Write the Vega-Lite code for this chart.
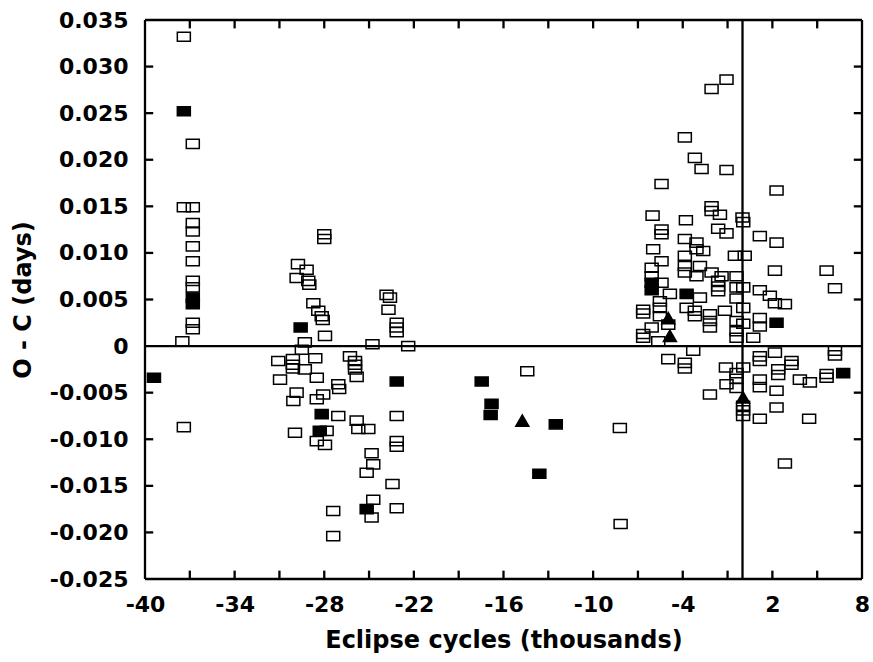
{
  "$schema": "https://vega.github.io/schema/vega-lite/v6.json",
  "width": 717,
  "height": 559,
  "padding": {"left": 11, "top": 9, "right": 8, "bottom": 4},
  "background": "white",
  "view": {"stroke": null},
  "config": {
    "axis": {
      "labelFont": "DejaVu Sans",
      "labelFontWeight": "bold",
      "labelFontSize": 22,
      "labelColor": "black",
      "labelFlush": false,
      "labelOverlap": false,
      "titleFont": "DejaVu Sans",
      "titleFontWeight": "bold",
      "titleFontSize": 24,
      "titleColor": "black"
    }
  },
  "datasets": {
    "segments": [
      {"c": -40, "c2": -40, "oc": -0.025, "oc2": 0.035},
      {"c": 8, "c2": 8, "oc": -0.025, "oc2": 0.035},
      {"c": -40, "c2": 8, "oc": -0.025, "oc2": -0.025},
      {"c": -40, "c2": 8, "oc": 0.035, "oc2": 0.035},
      {"c": 0, "c2": 0, "oc": -0.025, "oc2": 0.035},
      {"c": -40, "c2": 8, "oc": 0, "oc2": 0},
      {"c": -37, "c2": -37, "oc": -0.025, "oc2": -0.0241}, {"c": -37, "c2": -37, "oc": 0.035, "oc2": 0.0341},
      {"c": -34, "c2": -34, "oc": -0.025, "oc2": -0.0241}, {"c": -34, "c2": -34, "oc": 0.035, "oc2": 0.0341},
      {"c": -31, "c2": -31, "oc": -0.025, "oc2": -0.0241}, {"c": -31, "c2": -31, "oc": 0.035, "oc2": 0.0341},
      {"c": -28, "c2": -28, "oc": -0.025, "oc2": -0.0241}, {"c": -28, "c2": -28, "oc": 0.035, "oc2": 0.0341},
      {"c": -25, "c2": -25, "oc": -0.025, "oc2": -0.0241}, {"c": -25, "c2": -25, "oc": 0.035, "oc2": 0.0341},
      {"c": -22, "c2": -22, "oc": -0.025, "oc2": -0.0241}, {"c": -22, "c2": -22, "oc": 0.035, "oc2": 0.0341},
      {"c": -19, "c2": -19, "oc": -0.025, "oc2": -0.0241}, {"c": -19, "c2": -19, "oc": 0.035, "oc2": 0.0341},
      {"c": -16, "c2": -16, "oc": -0.025, "oc2": -0.0241}, {"c": -16, "c2": -16, "oc": 0.035, "oc2": 0.0341},
      {"c": -13, "c2": -13, "oc": -0.025, "oc2": -0.0241}, {"c": -13, "c2": -13, "oc": 0.035, "oc2": 0.0341},
      {"c": -10, "c2": -10, "oc": -0.025, "oc2": -0.0241}, {"c": -10, "c2": -10, "oc": 0.035, "oc2": 0.0341},
      {"c": -7, "c2": -7, "oc": -0.025, "oc2": -0.0241}, {"c": -7, "c2": -7, "oc": 0.035, "oc2": 0.0341},
      {"c": -4, "c2": -4, "oc": -0.025, "oc2": -0.0241}, {"c": -4, "c2": -4, "oc": 0.035, "oc2": 0.0341},
      {"c": -1, "c2": -1, "oc": -0.025, "oc2": -0.0241}, {"c": -1, "c2": -1, "oc": 0.035, "oc2": 0.0341},
      {"c": 2, "c2": 2, "oc": -0.025, "oc2": -0.0241}, {"c": 2, "c2": 2, "oc": 0.035, "oc2": 0.0341},
      {"c": 5, "c2": 5, "oc": -0.025, "oc2": -0.0241}, {"c": 5, "c2": 5, "oc": 0.035, "oc2": 0.0341},
      {"c": -40, "c2": -39.45, "oc": -0.02, "oc2": -0.02}, {"c": 8, "c2": 7.45, "oc": -0.02, "oc2": -0.02},
      {"c": -40, "c2": -39.45, "oc": -0.015, "oc2": -0.015}, {"c": 8, "c2": 7.45, "oc": -0.015, "oc2": -0.015},
      {"c": -40, "c2": -39.45, "oc": -0.01, "oc2": -0.01}, {"c": 8, "c2": 7.45, "oc": -0.01, "oc2": -0.01},
      {"c": -40, "c2": -39.45, "oc": -0.005, "oc2": -0.005}, {"c": 8, "c2": 7.45, "oc": -0.005, "oc2": -0.005},
      {"c": -40, "c2": -39.45, "oc": 0.005, "oc2": 0.005}, {"c": 8, "c2": 7.45, "oc": 0.005, "oc2": 0.005},
      {"c": -40, "c2": -39.45, "oc": 0.01, "oc2": 0.01}, {"c": 8, "c2": 7.45, "oc": 0.01, "oc2": 0.01},
      {"c": -40, "c2": -39.45, "oc": 0.015, "oc2": 0.015}, {"c": 8, "c2": 7.45, "oc": 0.015, "oc2": 0.015},
      {"c": -40, "c2": -39.45, "oc": 0.02, "oc2": 0.02}, {"c": 8, "c2": 7.45, "oc": 0.02, "oc2": 0.02},
      {"c": -40, "c2": -39.45, "oc": 0.025, "oc2": 0.025}, {"c": 8, "c2": 7.45, "oc": 0.025, "oc2": 0.025},
      {"c": -40, "c2": -39.45, "oc": 0.03, "oc2": 0.03}, {"c": 8, "c2": 7.45, "oc": 0.03, "oc2": 0.03}
    ],
    "obs": [
      {"c": -37.4, "oc": 0.0332, "t": "open"},
      {"c": -37.4, "oc": 0.0252, "t": "filled"},
      {"c": -36.8, "oc": 0.0217, "t": "open"},
      {"c": -37.4, "oc": 0.0149, "t": "open"},
      {"c": -36.8, "oc": 0.0149, "t": "open"},
      {"c": -36.8, "oc": 0.0132, "t": "open"},
      {"c": -36.8, "oc": 0.0123, "t": "open"},
      {"c": -36.8, "oc": 0.0107, "t": "open"},
      {"c": -36.8, "oc": 0.0091, "t": "open"},
      {"c": -36.8, "oc": 0.0070, "t": "open"},
      {"c": -36.8, "oc": 0.0063, "t": "open"},
      {"c": -36.8, "oc": 0.0052, "t": "filled"},
      {"c": -36.8, "oc": 0.0045, "t": "filled"},
      {"c": -36.8, "oc": 0.0025, "t": "open"},
      {"c": -36.8, "oc": 0.0018, "t": "open"},
      {"c": -37.5, "oc": 0.0005, "t": "open"},
      {"c": -37.4, "oc": -0.0087, "t": "open"},
      {"c": -39.4, "oc": -0.0034, "t": "filled"},
      {"c": -28.0, "oc": 0.0120, "t": "open"},
      {"c": -28.0, "oc": 0.0115, "t": "open"},
      {"c": -29.76, "oc": 0.0088, "t": "open"},
      {"c": -29.18, "oc": 0.0082, "t": "open"},
      {"c": -29.85, "oc": 0.0073, "t": "open"},
      {"c": -29.07, "oc": 0.0070, "t": "open"},
      {"c": -29.0, "oc": 0.0066, "t": "open"},
      {"c": -28.73, "oc": 0.0046, "t": "open"},
      {"c": -28.4, "oc": 0.0038, "t": "open"},
      {"c": -28.17, "oc": 0.0032, "t": "open"},
      {"c": -28.1, "oc": 0.0028, "t": "open"},
      {"c": -29.58, "oc": 0.0020, "t": "filled"},
      {"c": -27.95, "oc": 0.0011, "t": "open"},
      {"c": -29.3, "oc": 0.0004, "t": "open"},
      {"c": -29.5, "oc": -0.0004, "t": "open"},
      {"c": -31.08, "oc": -0.0016, "t": "open"},
      {"c": -30.1, "oc": -0.0014, "t": "open"},
      {"c": -30.1, "oc": -0.0020, "t": "open"},
      {"c": -30.1, "oc": -0.0024, "t": "open"},
      {"c": -28.6, "oc": -0.0013, "t": "open"},
      {"c": -29.3, "oc": -0.0025, "t": "open"},
      {"c": -30.96, "oc": -0.0036, "t": "open"},
      {"c": -28.5, "oc": -0.0034, "t": "open"},
      {"c": -29.85, "oc": -0.0050, "t": "open"},
      {"c": -30.07, "oc": -0.0059, "t": "open"},
      {"c": -28.5, "oc": -0.0057, "t": "open"},
      {"c": -28.07, "oc": -0.0052, "t": "open"},
      {"c": -27.06, "oc": -0.0041, "t": "open"},
      {"c": -27.0, "oc": -0.0046, "t": "open"},
      {"c": -28.17, "oc": -0.0073, "t": "filled"},
      {"c": -27.06, "oc": -0.0075, "t": "open"},
      {"c": -29.96, "oc": -0.0093, "t": "open"},
      {"c": -28.3, "oc": -0.0091, "t": "filled"},
      {"c": -27.84, "oc": -0.0091, "t": "open"},
      {"c": -28.5, "oc": -0.0102, "t": "open"},
      {"c": -27.95, "oc": -0.0106, "t": "open"},
      {"c": -25.83, "oc": -0.0080, "t": "open"},
      {"c": -25.72, "oc": -0.0089, "t": "open"},
      {"c": -25.05, "oc": -0.0089, "t": "open"},
      {"c": -26.28, "oc": -0.0011, "t": "open"},
      {"c": -25.94, "oc": -0.0016, "t": "open"},
      {"c": -25.94, "oc": -0.0020, "t": "open"},
      {"c": -25.94, "oc": -0.0025, "t": "open"},
      {"c": -25.83, "oc": -0.0033, "t": "open"},
      {"c": -24.77, "oc": 0.0002, "t": "open"},
      {"c": -23.83, "oc": 0.0055, "t": "open"},
      {"c": -23.6, "oc": 0.0052, "t": "open"},
      {"c": -23.7, "oc": 0.0039, "t": "open"},
      {"c": -23.15, "oc": 0.0025, "t": "open"},
      {"c": -23.15, "oc": 0.0020, "t": "open"},
      {"c": -23.15, "oc": 0.0015, "t": "open"},
      {"c": -22.38, "oc": 0.0000, "t": "open"},
      {"c": -23.15, "oc": -0.0038, "t": "filled"},
      {"c": -23.15, "oc": -0.0075, "t": "open"},
      {"c": -23.15, "oc": -0.0102, "t": "open"},
      {"c": -23.15, "oc": -0.0108, "t": "open"},
      {"c": -23.43, "oc": -0.0148, "t": "open"},
      {"c": -23.15, "oc": -0.0174, "t": "open"},
      {"c": -24.83, "oc": -0.0115, "t": "open"},
      {"c": -24.72, "oc": -0.0127, "t": "open"},
      {"c": -25.16, "oc": -0.0136, "t": "open"},
      {"c": -24.72, "oc": -0.0165, "t": "open"},
      {"c": -25.16, "oc": -0.0175, "t": "filled"},
      {"c": -24.83, "oc": -0.0184, "t": "open"},
      {"c": -27.4, "oc": -0.0177, "t": "open"},
      {"c": -27.4, "oc": -0.0204, "t": "open"},
      {"c": -14.41, "oc": -0.0027, "t": "open"},
      {"c": -17.46, "oc": -0.0038, "t": "filled"},
      {"c": -16.8, "oc": -0.0062, "t": "filled"},
      {"c": -16.86, "oc": -0.0074, "t": "filled"},
      {"c": -14.74, "oc": -0.0080, "t": "tri"},
      {"c": -12.5, "oc": -0.0084, "t": "filled"},
      {"c": -13.6, "oc": -0.0137, "t": "filled"},
      {"c": -8.21, "oc": -0.0088, "t": "open"},
      {"c": -8.16, "oc": -0.0191, "t": "open"},
      {"c": -1.07, "oc": 0.0286, "t": "open"},
      {"c": -2.07, "oc": 0.0276, "t": "open"},
      {"c": -3.86, "oc": 0.0224, "t": "open"},
      {"c": -3.19, "oc": 0.0202, "t": "open"},
      {"c": -2.74, "oc": 0.0190, "t": "open"},
      {"c": -1.07, "oc": 0.0189, "t": "open"},
      {"c": -5.42, "oc": 0.0174, "t": "open"},
      {"c": -2.07, "oc": 0.0150, "t": "open"},
      {"c": -2.07, "oc": 0.0145, "t": "open"},
      {"c": -1.51, "oc": 0.0141, "t": "open"},
      {"c": -6.02, "oc": 0.0140, "t": "open"},
      {"c": -3.79, "oc": 0.0135, "t": "open"},
      {"c": 0.0, "oc": 0.0138, "t": "open"},
      {"c": 0.05, "oc": 0.0133, "t": "open"},
      {"c": -1.63, "oc": 0.0126, "t": "open"},
      {"c": -1.07, "oc": 0.0121, "t": "open"},
      {"c": -5.42, "oc": 0.0125, "t": "open"},
      {"c": -5.42, "oc": 0.0120, "t": "open"},
      {"c": -5.98, "oc": 0.0104, "t": "open"},
      {"c": -3.86, "oc": 0.0115, "t": "open"},
      {"c": -3.08, "oc": 0.0111, "t": "open"},
      {"c": -3.08, "oc": 0.0104, "t": "open"},
      {"c": -2.63, "oc": 0.0102, "t": "open"},
      {"c": -3.86, "oc": 0.0097, "t": "open"},
      {"c": -0.51, "oc": 0.0097, "t": "open"},
      {"c": 0.15, "oc": 0.0097, "t": "open"},
      {"c": -6.08, "oc": 0.0084, "t": "open"},
      {"c": -5.42, "oc": 0.0091, "t": "open"},
      {"c": -3.86, "oc": 0.0086, "t": "open"},
      {"c": -2.85, "oc": 0.0086, "t": "open"},
      {"c": -2.07, "oc": 0.0079, "t": "open"},
      {"c": -1.4, "oc": 0.0075, "t": "open"},
      {"c": -0.4, "oc": 0.0075, "t": "open"},
      {"c": -6.08, "oc": 0.0075, "t": "open"},
      {"c": -6.08, "oc": 0.0068, "t": "filled"},
      {"c": -5.42, "oc": 0.0068, "t": "open"},
      {"c": -3.86, "oc": 0.0079, "t": "open"},
      {"c": -3.08, "oc": 0.0075, "t": "open"},
      {"c": -1.63, "oc": 0.0070, "t": "open"},
      {"c": -1.63, "oc": 0.0064, "t": "open"},
      {"c": -1.63, "oc": 0.0059, "t": "open"},
      {"c": -6.08, "oc": 0.0060, "t": "filled"},
      {"c": -4.86, "oc": 0.0056, "t": "open"},
      {"c": -3.74, "oc": 0.0056, "t": "filled"},
      {"c": -2.85, "oc": 0.0052, "t": "open"},
      {"c": -0.4, "oc": 0.0063, "t": "open"},
      {"c": -0.4, "oc": 0.0051, "t": "open"},
      {"c": -5.53, "oc": 0.0048, "t": "open"},
      {"c": -6.65, "oc": 0.0039, "t": "open"},
      {"c": -6.65, "oc": 0.0035, "t": "open"},
      {"c": -5.53, "oc": 0.0041, "t": "open"},
      {"c": -5.53, "oc": 0.0032, "t": "open"},
      {"c": -4.97, "oc": 0.0023, "t": "open"},
      {"c": -6.65, "oc": 0.0013, "t": "open"},
      {"c": -6.65, "oc": 0.0009, "t": "open"},
      {"c": -6.08, "oc": 0.0020, "t": "open"},
      {"c": -5.64, "oc": 0.0005, "t": "open"},
      {"c": -3.74, "oc": 0.0041, "t": "open"},
      {"c": -3.19, "oc": 0.0038, "t": "open"},
      {"c": -3.19, "oc": 0.0032, "t": "open"},
      {"c": -2.18, "oc": 0.0034, "t": "open"},
      {"c": -2.18, "oc": 0.0027, "t": "open"},
      {"c": -2.18, "oc": 0.0020, "t": "open"},
      {"c": -1.18, "oc": 0.0038, "t": "open"},
      {"c": -0.4, "oc": 0.0027, "t": "open"},
      {"c": -0.4, "oc": 0.0016, "t": "open"},
      {"c": -0.4, "oc": 0.0009, "t": "open"},
      {"c": -3.3, "oc": -0.0005, "t": "open"},
      {"c": -4.97, "oc": -0.0014, "t": "open"},
      {"c": -3.86, "oc": -0.0018, "t": "open"},
      {"c": -3.86, "oc": -0.0024, "t": "open"},
      {"c": -1.11, "oc": -0.0023, "t": "open"},
      {"c": -0.4, "oc": -0.0029, "t": "open"},
      {"c": -0.4, "oc": -0.0035, "t": "open"},
      {"c": -1.07, "oc": -0.0041, "t": "open"},
      {"c": -0.4, "oc": -0.0045, "t": "open"},
      {"c": -2.18, "oc": -0.0052, "t": "open"},
      {"c": 0.04, "oc": -0.0064, "t": "open"},
      {"c": 0.04, "oc": -0.0069, "t": "open"},
      {"c": 0.04, "oc": -0.0075, "t": "open"},
      {"c": 2.28, "oc": 0.0167, "t": "open"},
      {"c": 1.16, "oc": 0.0118, "t": "open"},
      {"c": 2.28, "oc": 0.0111, "t": "open"},
      {"c": 2.17, "oc": 0.0081, "t": "open"},
      {"c": 5.63, "oc": 0.0081, "t": "open"},
      {"c": 6.19, "oc": 0.0062, "t": "open"},
      {"c": 0.05, "oc": 0.0063, "t": "open"},
      {"c": 1.16, "oc": 0.0060, "t": "open"},
      {"c": 1.83, "oc": 0.0054, "t": "open"},
      {"c": 2.17, "oc": 0.0046, "t": "open"},
      {"c": 2.84, "oc": 0.0045, "t": "open"},
      {"c": 1.16, "oc": 0.0030, "t": "open"},
      {"c": 1.16, "oc": 0.0021, "t": "open"},
      {"c": 2.28, "oc": 0.0025, "t": "filled"},
      {"c": 0.05, "oc": 0.0041, "t": "open"},
      {"c": 0.05, "oc": 0.0024, "t": "open"},
      {"c": 0.72, "oc": 0.0009, "t": "open"},
      {"c": 1.16, "oc": -0.0011, "t": "open"},
      {"c": 2.17, "oc": -0.0007, "t": "open"},
      {"c": 1.16, "oc": -0.0016, "t": "open"},
      {"c": 3.28, "oc": -0.0016, "t": "open"},
      {"c": 3.28, "oc": -0.0020, "t": "open"},
      {"c": 0.05, "oc": -0.0023, "t": "open"},
      {"c": 2.39, "oc": -0.0025, "t": "open"},
      {"c": 2.39, "oc": -0.0031, "t": "open"},
      {"c": 1.16, "oc": -0.0036, "t": "open"},
      {"c": 1.16, "oc": -0.0044, "t": "open"},
      {"c": 3.84, "oc": -0.0036, "t": "open"},
      {"c": 4.51, "oc": -0.0039, "t": "open"},
      {"c": 5.63, "oc": -0.0030, "t": "open"},
      {"c": 5.63, "oc": -0.0034, "t": "open"},
      {"c": 6.19, "oc": -0.0005, "t": "open"},
      {"c": 6.19, "oc": -0.0010, "t": "open"},
      {"c": 6.74, "oc": -0.0029, "t": "filled"},
      {"c": 2.28, "oc": -0.0048, "t": "open"},
      {"c": 2.28, "oc": -0.0066, "t": "open"},
      {"c": 1.16, "oc": -0.0078, "t": "open"},
      {"c": 4.46, "oc": -0.0078, "t": "open"},
      {"c": 2.84, "oc": -0.0126, "t": "open"},
      {"c": -4.97, "oc": 0.0030, "t": "tri"},
      {"c": -4.86, "oc": 0.0011, "t": "tri"},
      {"c": 0.04, "oc": -0.0055, "t": "tri"}
    ]
  },
  "layer": [
    {
      "data": {"name": "obs"},
      "mark": {"type": "point", "filled": true, "stroke": "black", "strokeWidth": 1.5, "opacity": 1},
      "encoding": {
        "x": {
          "field": "c", "type": "quantitative",
          "scale": {"domain": [-40, 8], "nice": false, "zero": false},
          "axis": {
            "orient": "bottom",
            "title": "Eclipse cycles (thousands)",
            "titlePadding": 13,
            "domain": false, "grid": false, "ticks": false, "tickSize": 0,
            "values": [-40, -34, -28, -22, -16, -10, -4, 2, 8],
            "labelExpr": "'' + datum.value",
            "labelPadding": 15
          }
        },
        "y": {
          "field": "oc", "type": "quantitative",
          "scale": {"domain": [-0.025, 0.035], "nice": false, "zero": false},
          "axis": {
            "orient": "left",
            "title": "O - C (days)",
            "titlePadding": 14,
            "domain": false, "grid": false, "ticks": false, "tickSize": 0,
            "values": [-0.025, -0.02, -0.015, -0.01, -0.005, 0, 0.005, 0.01, 0.015, 0.02, 0.025, 0.03, 0.035],
            "labelExpr": "abs(datum.value) < 1e-9 ? '0' : (datum.value < 0 ? '-' : '') + format(abs(datum.value), '.3f')",
            "labelPadding": 17
          }
        },
        "shape": {
          "field": "t", "type": "nominal",
          "scale": {"domain": ["open", "filled", "tri"], "range": ["M-1,-0.7H1V0.7H-1Z", "M-1,-0.7H1V0.7H-1Z", "triangle-up"]},
          "legend": null
        },
        "fill": {
          "field": "t", "type": "nominal",
          "scale": {"domain": ["open", "filled", "tri"], "range": ["transparent", "black", "black"]},
          "legend": null
        },
        "size": {
          "field": "t", "type": "nominal",
          "scale": {"domain": ["open", "filled", "tri"], "range": [169, 169, 100]},
          "legend": null
        }
      }
    },
    {
      "data": {"name": "segments"},
      "mark": {"type": "rule", "stroke": "black", "strokeWidth": 2.3},
      "encoding": {
        "x": {"field": "c", "type": "quantitative", "scale": {"domain": [-40, 8], "nice": false, "zero": false}},
        "x2": {"field": "c2"},
        "y": {"field": "oc", "type": "quantitative", "scale": {"domain": [-0.025, 0.035], "nice": false, "zero": false}},
        "y2": {"field": "oc2"}
      }
    }
  ]
}
